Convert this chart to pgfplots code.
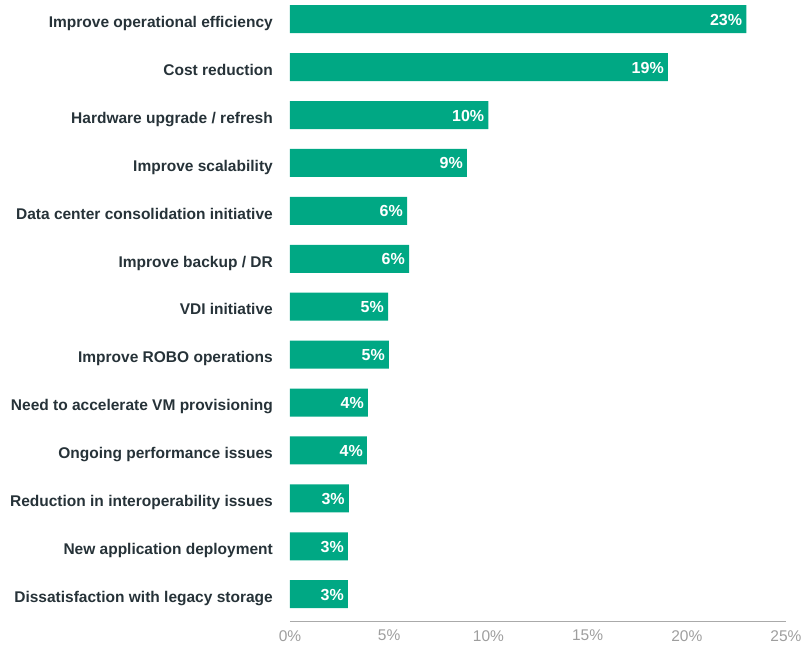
\documentclass[border=0pt]{standalone}
\usepackage{pgfplots}
\pgfplotsset{compat=1.18}
\usepackage{pgfplotstable}
\usepackage{fontspec}
\setmainfont{Liberation Sans}
\definecolor{bargreen}{RGB}{0,168,132}
\definecolor{labeltext}{RGB}{38,50,56}
\definecolor{ticktext}{RGB}{158,158,158}
\definecolor{axisgray}{RGB}{170,170,170}
\pgfplotstableread{
y val lab
0 23.0 23
1 19.05 19
2 10.0 10
3 8.92 9
4 5.9 6
5 6.0 6
6 4.94 5
7 4.99 5
8 3.93 4
9 3.88 4
10 2.97 3
11 2.92 3
12 2.92 3
}\data
\begin{document}
\begin{tikzpicture}
\useasboundingbox (-290pt,-25pt) rectangle (521pt,621pt);
\begin{axis}[
  at={(0,0)}, anchor=south west,
  scale only axis,
  width=496pt, height=621pt,
  xbar, bar width=28pt,
  xmin=0, xmax=25,
  ymin=-0.4, ymax=12.56,
  y dir=reverse,
  axis y line=left,
  y axis line style={draw=none},
  axis x line=bottom,
  x axis line style={-, draw=axisgray, line width=1pt},
  xtick={0,5,10,15,20,25},
  major tick length=0pt,
  /pgf/number format/assume math mode=true,
  xticklabel={\pgfmathprintnumber{\tick}\%},
  xticklabel style={font=\fontsize{15.5}{17}\selectfont, text=ticktext, inner sep=0pt, yshift=-9pt},
  ytick={0,...,12},
  yticklabels={Improve operational efficiency,Cost reduction,Hardware upgrade / refresh,Improve scalability,Data center consolidation initiative,Improve backup / DR,VDI initiative,Improve ROBO operations,Need to accelerate VM provisioning,Ongoing performance issues,Reduction in interoperability issues,New application deployment,Dissatisfaction with legacy storage},
  yticklabel style={font=\fontsize{15.5}{17}\bfseries, text=labeltext, inner sep=0pt, xshift=-17pt, text height=16.5pt, text depth=0pt},
  clip=false,
  point meta=explicit,
  nodes near coords={\pgfmathprintnumber[fixed,precision=0]{\pgfplotspointmeta}\%},
  nodes near coords style={anchor=east, text=white, font=\fontsize{16}{18}\bfseries, inner xsep=4pt, inner ysep=0pt, text height=12pt, text depth=0pt},
]
\addplot[fill=bargreen, draw=none] table[x=val, y=y, meta=lab] {\data};
\end{axis}
\end{tikzpicture}
\end{document}
